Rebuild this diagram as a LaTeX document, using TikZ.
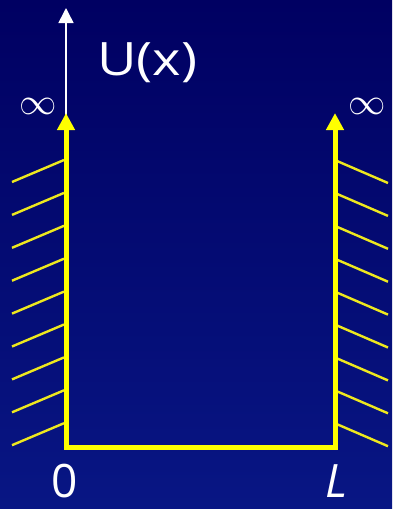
\documentclass[tikz,border=0pt]{standalone}
\usepackage{fontspec}
\setmainfont{Open Sans}
\usetikzlibrary{arrows.meta}
\definecolor{bgtop}{RGB}{0,0,98}
\definecolor{bgbot}{RGB}{8,22,132}
\definecolor{wall}{RGB}{255,255,0}
\definecolor{hatch}{RGB}{238,232,30}
\newcommand{\biginf}{\scalebox{1.5}{\fontsize{24}{26}\selectfont$\infty$}}
\tikzset{
  wallline/.style={draw=wall, line width=5pt, line join=miter},
  hatchline/.style={draw=hatch, line width=2.4pt},
  axisline/.style={draw=white, line width=1.6pt, -{Triangle[length=15pt,width=15pt]}},
  lbl/.style={text=white, inner sep=0pt, font=\fontsize{46}{50}\selectfont},
  inf/.style={text=white, inner sep=0pt},
}
\begin{document}
\begin{tikzpicture}[x=1pt,y=-1pt]
\shade[top color=bgtop, bottom color=bgbot] (0,0) rectangle (392,509);
\useasboundingbox (0,0) rectangle (392,509);
% coordinates
\coordinate (lt) at (66,113);
\coordinate (lb) at (66,447);
\coordinate (rb) at (335,447);
\coordinate (rt) at (335,113);
\coordinate (axtop) at (66,8);
\coordinate (axbot) at (66,115);
% axis
\draw[axisline] (axbot) -- (axtop);
% hatches
\foreach \i in {0,...,8}{
  \coordinate (hl\i) at (64,{160+32.9*\i});
  \coordinate (hlo\i) at (12,{182+32.9*\i});
  \coordinate (hr\i) at (337,{161+32.9*\i});
  \coordinate (hro\i) at (388,{183+32.9*\i});
  \draw[hatchline] (hl\i) -- (hlo\i);
  \draw[hatchline] (hr\i) -- (hro\i);
}
% walls
\draw[wallline, {Triangle[length=17pt,width=17pt]}-{Triangle[length=17pt,width=17pt]}] (lt) -- (lb) -- (rb) -- (rt);
% labels
\node[lbl, anchor=base west, xscale=1.18] (U) at (97,75) {U(x)};
\node[inf] (infl) at (38,106) {\biginf};
\node[inf] (infr) at (367,106) {\biginf};
\node[lbl, anchor=base] (zero) at (65,497) {0};
\node[lbl, anchor=base] (L) at (337,497) {\textit{L}};
\end{tikzpicture}
\end{document}
